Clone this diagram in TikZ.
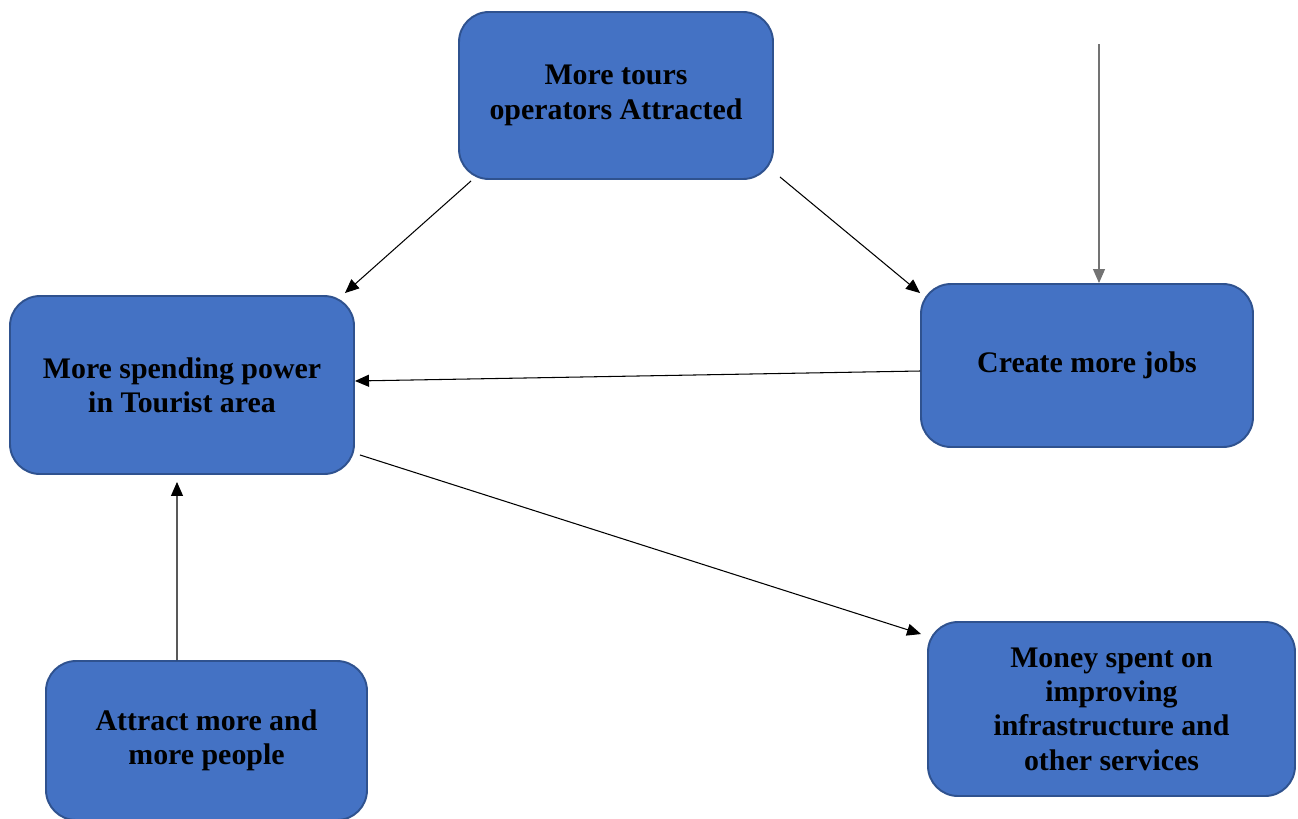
\documentclass[tikz,border=0pt]{standalone}
\usepackage{fontspec}
\setmainfont{Liberation Serif}
\usetikzlibrary{arrows.meta,positioning}

\definecolor{boxfill}{HTML}{4472C4}
\definecolor{boxline}{HTML}{2F528F}

\tikzset{
  blk/.style={draw=boxline, line width=1.1pt, fill=boxfill, rounded corners=0.6cm,
    align=center, font=\fontsize{17}{19.5}\selectfont\bfseries},
  arr/.style={-{Triangle[length=0.28cm,width=0.24cm]}, line width=0.6pt}
}

\begin{document}
\begin{tikzpicture}
            \useasboundingbox (0,0) rectangle (25.96,-16.36);

            \node[blk, minimum width=6.28cm, minimum height=3.34cm] (tours) at (12.32,-1.91)
            {More tours\\operators Attracted};
            \node[blk, minimum width=6.88cm, minimum height=3.56cm] (spend) at (3.64,-7.70)
            {More spending power\\in Tourist area};
            \node[blk, minimum width=6.64cm, minimum height=3.26cm] (jobs) at (21.74,-7.31)
            {Create more jobs};
            \node[blk, minimum width=6.42cm, minimum height=3.18cm] (attract) at (4.13,-14.81)
            {Attract more and\\more people};
            \node[blk, minimum width=7.34cm, minimum height=3.48cm] (money) at (22.23,-14.18)
            {Money spent on\\improving\\infrastructure and\\other services};
            \coordinate[above=4.78cm of jobs.north, xshift=0.24cm] (src);

            \draw[arr] ([xshift=0.26cm,yshift=-0.02cm]tours.south west) -- ([xshift=-0.2cm,yshift=0.04cm]spend.north east);
            \draw[arr] ([xshift=0.12cm,yshift=0.06cm]tours.south east) -- ([yshift=-0.2cm]jobs.north west);
            \draw[arr, draw=black!55] (src) -- ([xshift=0.24cm]jobs.north);
            \draw[arr] ([yshift=-0.11cm]jobs.west) -- ([yshift=0.08cm]spend.east);
            \draw[arr] ([xshift=0.1cm,yshift=0.4cm]spend.south east) -- ([xshift=-0.12cm,yshift=-0.26cm]money.north west);
            \draw[arr] ([xshift=-0.59cm]attract.north) -- ([xshift=-0.1cm,yshift=-0.14cm]spend.south);
\end{tikzpicture}
\end{document}
